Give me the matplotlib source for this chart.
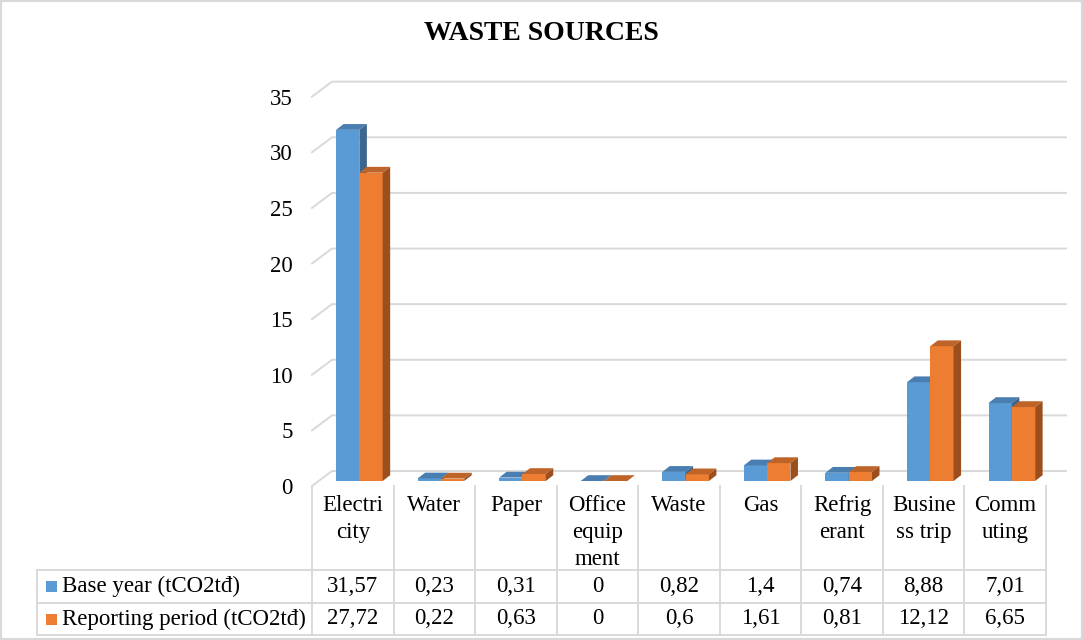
import matplotlib.pyplot as plt
from matplotlib.patches import Polygon, Rectangle

plt.rcParams['font.family'] = ['Liberation Serif', 'DejaVu Serif']

categories = ["Electri\ncity", "Water", "Paper", "Office\nequip\nment", "Waste",
              "Gas", "Refrig\nerant", "Busine\nss trip", "Comm\nuting"]
base_year = [31.57, 0.23, 0.31, 0, 0.82, 1.4, 0.74, 8.88, 7.01]
reporting = [27.72, 0.22, 0.63, 0, 0.6, 1.61, 0.81, 12.12, 6.65]
series_names = ["Base year (tCO2tđ)", "Reporting period (tCO2tđ)"]
yticks = [0, 5, 10, 15, 20, 25, 30, 35]

W, H = 1083, 640
blue, blue_top, blue_side = "#5B9BD5", "#4A7DB0", "#3C668E"
orange, orange_top, orange_side = "#ED7D31", "#BE6428", "#9C4F1D"
grid_c = "#D9D9D9"
fs = 16.5

fig = plt.figure(figsize=(W / 100, H / 100), dpi=100)

# plot area (front plane) in pixels
x0, x1 = 312, 1046
y_top, y_zero = 80, 486
ax = fig.add_axes([x0 / W, 1 - y_zero / H, (x1 - x0) / W, (y_zero - y_top) / H])
n = len(categories)
ymax = 36.5
ax.set_xlim(-0.5, n - 0.5)
ax.set_ylim(0, ymax)
px_x = (x1 - x0) / n          # pixels per category
px_y = (y_zero - y_top) / ymax  # pixels per unit

def dx(p):
    return p / px_x

def dy(p):
    return p / px_y

# walls / gridlines
bx, by = dx(20), dy(15)
for v in yticks:
    ax.plot([-0.5, -0.5 + bx, n - 0.5 + bx], [v, v + by, v + by],
            color=grid_c, lw=1.4, clip_on=False, zorder=1)

ax.set_yticks(yticks)
ax.set_yticklabels([str(v) for v in yticks], fontsize=fs)
ax.tick_params(axis='y', length=0, pad=14)
ax.set_xticks([])
for s in ax.spines.values():
    s.set_visible(False)
ax.patch.set_visible(False)

# 3D-ish bars
w = dx(23.3)
fx, fy = dx(6.6), dy(5)
ddx, ddy = dx(7.5), dy(5.8)

def bar3d(xl, h, c_front, c_top, c_side):
    xl = xl + fx
    b = fy
    t = h + fy
    ax.add_patch(Polygon([(xl, b), (xl + w, b), (xl + w, t), (xl, t)],
                         closed=True, fc=c_front, ec='none', zorder=3, clip_on=False))
    ax.add_patch(Polygon([(xl, t), (xl + w, t), (xl + w + ddx, t + ddy), (xl + ddx, t + ddy)],
                         closed=True, fc=c_top, ec='none', zorder=3, clip_on=False))
    ax.add_patch(Polygon([(xl + w, b), (xl + w + ddx, b + ddy), (xl + w + ddx, t + ddy), (xl + w, t)],
                         closed=True, fc=c_side, ec='none', zorder=3, clip_on=False))

for i in range(n):
    bar3d(i - w, base_year[i], blue, blue_top, blue_side)
    bar3d(i, reporting[i], orange, orange_top, orange_side)

# overlay in pixel coordinates for title, table and frame
ov = fig.add_axes([0, 0, 1, 1])
ov.set_xlim(0, W)
ov.set_ylim(H, 0)
ov.axis('off')
ov.patch.set_visible(False)

ov.text(541, 34, "WASTE SOURCES", ha='center', va='center', fontsize=20, fontweight='bold')

ov.add_patch(Rectangle((1, 1), W - 2.5, H - 2.5, fill=False, ec=grid_c, lw=1.6))

tab_left = 37
head_top, r1, r2, r3 = 486, 570, 603, 635
tl = dict(color=grid_c, lw=1.4)
cols = [x0 + i * px_x for i in range(n + 1)]
for cx in cols:
    ov.plot([cx, cx], [head_top, r3], **tl)
ov.plot([tab_left, tab_left], [r1, r3], **tl)
for ry in (r1, r2, r3):
    ov.plot([tab_left, x1], [ry, ry], **tl)

for i, lab in enumerate(categories):
    cx = x0 + (i + 0.5) * px_x
    ov.text(cx, 495, lab, ha='center', va='top', fontsize=fs, linespacing=1.38)

row_mid = [(r1 + r2) / 2, (r2 + r3) / 2]
for vals, name, col, ym in zip([base_year, reporting], series_names, [blue, orange], row_mid):
    ov.add_patch(Rectangle((46, ym - 5.5), 11, 11, fc=col, ec='none'))
    ov.text(62, ym, name, ha='left', va='center', fontsize=fs)
    for i, v in enumerate(vals):
        cx = x0 + (i + 0.5) * px_x
        ov.text(cx, ym, f"{v:g}".replace('.', ','), ha='center', va='center', fontsize=fs)

fig.savefig("out.png", dpi=100)
